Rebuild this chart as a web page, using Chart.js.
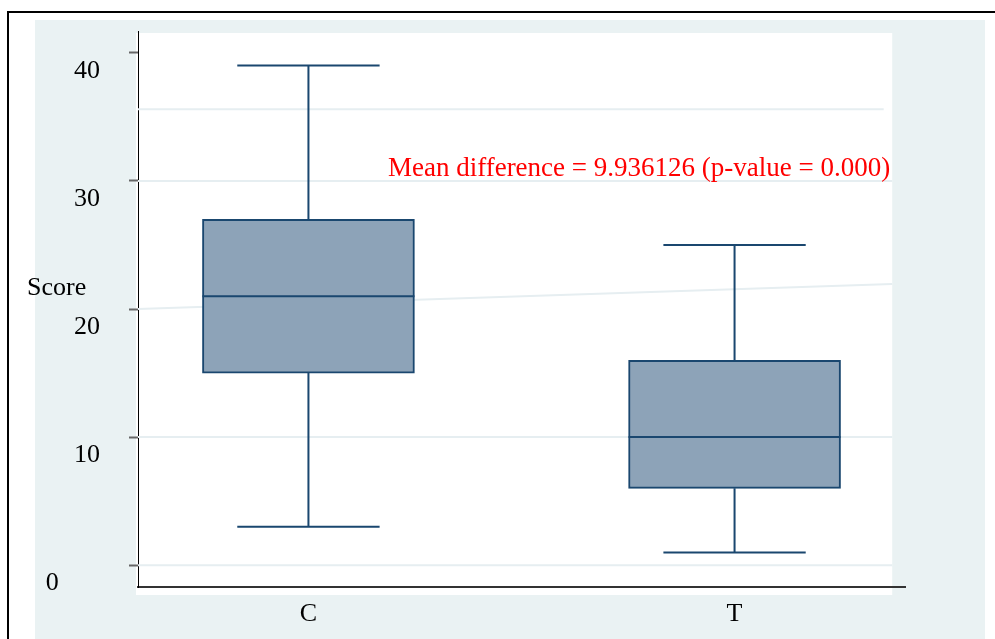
<!DOCTYPE html>
<html>
<head>
<meta charset="utf-8">
<script src="https://cdn.jsdelivr.net/npm/chart.js@4/dist/chart.umd.min.js"></script>
<style>
  body { margin: 0; background: #fff; }
  #box { position: absolute; left: 0; top: 0; }
</style>
</head>
<body>
<canvas id="box" width="995" height="639"></canvas>
<script>
// data
const groups = ['C', 'T'];
const whiskerLow = [3, 1];
const q1 = [15, 6];
const median = [21, 10];
const q3 = [27, 16];
const whiskerHigh = [39, 25];
const yTicks = [0, 10, 20, 30, 40];

// faint lines in the plot region
const gridLevels = [0, 10, 30];
const upperLineX = [0.6, 2.35];
const upperLineY = [35.6, 35.6];
const slantLineX = [0.6, 2.37];
const slantLineY = [20, 21.95];

const note = 'Mean difference = 9.936126 (p-value = 0.000)';

const serif = '"Liberation Serif", "DejaVu Serif", serif';
const navy = '#1a476f';
const faint = '#e6eef1';

function lineSet(xs, ys){
	return {
		type: 'line',
		data: xs.map((x, i) => ({x: x, y: ys[i]})),
		borderColor: faint,
		borderWidth: 2,
		pointRadius: 0,
		order: 2
	};
}

const datasets = [];
gridLevels.forEach(function(v){
	datasets.push(lineSet([0.6, 2.37], [v, v]));
});
datasets.push(lineSet(upperLineX, upperLineY));
datasets.push(lineSet(slantLineX, slantLineY));
datasets.push({
	type: 'bar',
	data: groups.map((g, i) => ({x: i + 1, y: [q1[i], q3[i]]})),
	backgroundColor: '#8da3b8',
	borderColor: navy,
	borderWidth: 2,
	borderSkipped: false,
	barThickness: 212,
	order: 1
});

// panel backgrounds
const backdrop = {
	id: 'backdrop',
	beforeDraw(chart){
		const c = chart.ctx, a = chart.chartArea;
		const xr = chart.scales.x.getPixelForValue(2.37);
		c.save();
		c.fillStyle = '#000';
		c.fillRect(7, 11, 995, 2);
		c.fillRect(7, 11, 2, 639);
		c.fillStyle = '#eaf2f3';
		c.fillRect(35, 20, 950, 639);
		c.fillStyle = '#fff';
		c.fillRect(a.left - 2, a.top + 2, xr - a.left + 2, a.bottom - a.top + 6);
		c.restore();
	}
};

// whiskers, medians, and the texts
const boxParts = {
	id: 'boxParts',
	afterDatasetsDraw(chart){
		const c = chart.ctx;
		const xs = chart.scales.x, ys = chart.scales.y;
		const bars = chart.getDatasetMeta(chart.data.datasets.length - 1).data;
		c.save();
		c.strokeStyle = navy;
		c.lineWidth = 2;
		groups.forEach(function(g, i){
			const cx = xs.getPixelForValue(i + 1);
			const capL = xs.getPixelForValue(i + 1 - 0.167);
			const capR = xs.getPixelForValue(i + 1 + 0.167);
			const bw = bars[i].width / 2;
			c.beginPath();
			c.moveTo(cx, ys.getPixelForValue(q3[i]));
			c.lineTo(cx, ys.getPixelForValue(whiskerHigh[i]));
			c.moveTo(capL, ys.getPixelForValue(whiskerHigh[i]));
			c.lineTo(capR, ys.getPixelForValue(whiskerHigh[i]));
			c.moveTo(cx, ys.getPixelForValue(q1[i]));
			c.lineTo(cx, ys.getPixelForValue(whiskerLow[i]));
			c.moveTo(capL, ys.getPixelForValue(whiskerLow[i]));
			c.lineTo(capR, ys.getPixelForValue(whiskerLow[i]));
			c.moveTo(cx - bw, ys.getPixelForValue(median[i]));
			c.lineTo(cx + bw, ys.getPixelForValue(median[i]));
			c.stroke();
		});
		c.font = '27px ' + serif;
		c.fillStyle = '#ff0000';
		c.textAlign = 'right';
		c.textBaseline = 'alphabetic';
		c.fillText(note, xs.getPixelForValue(2.37) - 2, ys.getPixelForValue(30.4));
		c.font = '26px ' + serif;
		c.fillStyle = '#000';
		c.textAlign = 'left';
		c.fillText('Score', 27, 295);
		c.restore();
	}
};

function renderChart(){
	const ctx = document.querySelector('#box').getContext('2d');
	new Chart(ctx, {
		type: 'bar',
		data: {datasets: datasets},
		options: {
			responsive: false,
			animation: false,
			devicePixelRatio: 1,
			layout: {padding: {top: 31, right: 90, left: 0, bottom: 0}},
			plugins: {legend: {display: false}, tooltip: {enabled: false}},
			scales: {
				x: {
					type: 'linear',
					min: 0.6,
					max: 2.4,
					offset: false,
					z: 1,
					afterBuildTicks: s => { s.ticks = groups.map((g, i) => ({value: i + 1})); },
					afterFit: s => { s.height = 52; s.paddingLeft = 0; s.paddingRight = 0; },
					ticks: {
						callback: v => groups[v - 1],
						font: {family: serif, size: 26},
						color: '#000',
						padding: 4
					},
					grid: {display: false},
					border: {display: true, color: '#333', width: 2}
				},
				y: {
					min: -1.7,
					max: 41.7,
					z: 1,
					afterBuildTicks: s => { s.ticks = yTicks.map(v => ({value: v})); },
					afterFit: s => { s.width = 138; s.paddingTop = 0; s.paddingBottom = 0; },
					ticks: {
						callback: v => v === 0 ? '0      \u200A' : String(v),
						font: {family: serif, size: 26},
						color: '#000',
						padding: 29,
						labelOffset: 18
					},
					grid: {drawOnChartArea: false, drawTicks: true, tickLength: 9, tickColor: '#666', tickWidth: 2},
					border: {display: true, color: '#000', width: 1}
				}
			}
		},
		plugins: [backdrop, boxParts]
	});
}

renderChart();
</script>
</body>
</html>
